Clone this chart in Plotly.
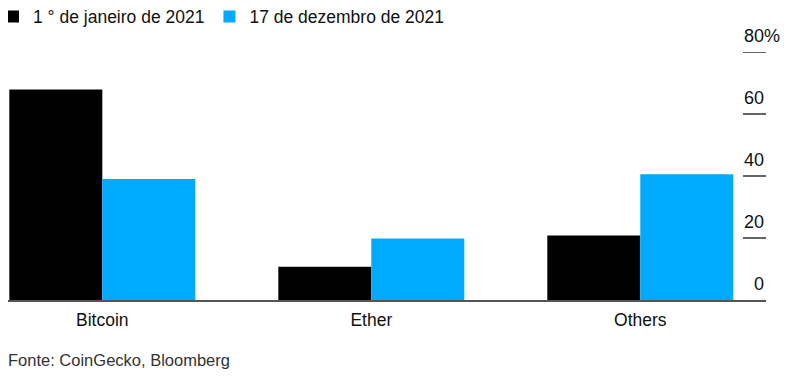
import plotly.graph_objects as go

categories = ["Bitcoin", "Ether", "Others"]
series_names = ["1 ° de janeiro de 2021", "17 de dezembro de 2021"]
jan_2021 = [67.9, 10.7, 20.8]
dec_2021 = [39.0, 19.8, 40.6]
y_tickvals = [0, 20, 40, 60, 80]
y_ticktext = ["0", "20", "40", "60", "80"]
source_text = "Fonte: CoinGecko, Bloomberg"

FONT = "Liberation Sans, Arial, Helvetica, sans-serif"
BLACK = "#000000"
BLUE = "#00AAFF"

# the page body adds an 8px offset, so the figure is sized to fill the rest
W, H = 792, 368
ML, MR, MT, MB = 0, 34, 44, 75.5
PW = W - ML - MR
PH = H - MT - MB

fig = go.Figure()
fig.add_trace(go.Bar(x=categories, y=jan_2021, name=series_names[0],
                     marker=dict(color=BLACK, line=dict(width=0))))
fig.add_trace(go.Bar(x=categories, y=dec_2021, name=series_names[1],
                     marker=dict(color=BLUE, line=dict(width=0))))

annotations = []
shapes = []
for v, t in zip(y_tickvals, y_ticktext):
    annotations.append(dict(x=1, xref="paper", y=v, yref="y", text=t,
                            xanchor="right", yanchor="middle", yshift=16,
                            showarrow=False,
                            font=dict(family=FONT, size=18, color="#111")))
    if v != 0:
        shapes.append(dict(type="line", xref="paper", yref="y",
                           x0=1 - 23 / PW, x1=1, y0=v, y1=v,
                           line=dict(color="#111", width=1.3)))
annotations.append(dict(x=1, xref="paper", y=y_tickvals[-1], yref="y", text="%",
                        xanchor="left", yanchor="middle", yshift=16, xshift=-4,
                        showarrow=False,
                        font=dict(family=FONT, size=18, color="#111")))
annotations.append(dict(x=0, xref="paper", y=-(353 - (MT + PH)) / PH, yref="paper",
                        text=source_text, xanchor="left", yanchor="middle",
                        showarrow=False, xshift=-2,
                        font=dict(family=FONT, size=16.5, color="#333")))

fig.update_layout(
    width=W, height=H,
    margin=dict(l=ML, r=MR, t=MT, b=MB, pad=0, autoexpand=False),
    paper_bgcolor="white", plot_bgcolor="white",
    barmode="group", bargap=0.3086, bargroupgap=0,
    font=dict(family=FONT, size=18, color="#111"),
    showlegend=True,
    legend=dict(orientation="h", x=-15 / PW, y=(MT + PH - 8.5) / PH,
                xanchor="left", yanchor="middle",
                font=dict(family=FONT, size=17.5, color="#111"),
                traceorder="normal", itemwidth=30, bgcolor="rgba(0,0,0,0)"),
    xaxis=dict(type="category", range=[-0.3506, 2.4673], showgrid=False,
               showline=True, linecolor="#555", linewidth=2, ticks="",
               tickfont=dict(family=FONT, size=17.5, color="#111"),
               ticklabelstandoff=3, zeroline=False),
    yaxis=dict(range=[0, 80], side="right", showgrid=False, zeroline=False,
               ticks="", showticklabels=False, showline=False),
    annotations=annotations,
    shapes=shapes,
)

fig.write_html("out.html")
